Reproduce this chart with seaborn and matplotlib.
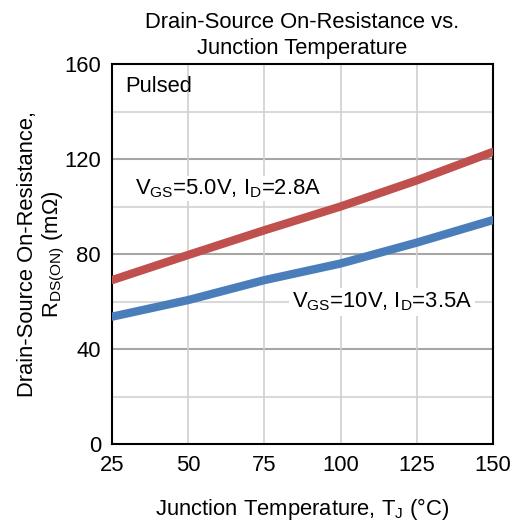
import pandas as pd
import seaborn as sns
from matplotlib import pyplot as plt

# 读图得到的数据
temp = [25, 50, 75, 100, 125, 150]
r_5v = [69.0, 79.6, 90.0, 100.0, 111.0, 123.0]
r_10v = [53.6, 60.6, 69.0, 76.0, 84.8, 94.3]
label_5v = r'V$_{\mathrm{GS}}$=5.0V, I$_{\mathrm{D}}$=2.8A'
label_10v = r'V$_{\mathrm{GS}}$=10V, I$_{\mathrm{D}}$=3.5A'

df = pd.concat([
    pd.DataFrame({"T": temp, "R": r_5v, "cond": "5V"}),
    pd.DataFrame({"T": temp, "R": r_10v, "cond": "10V"}),
], ignore_index=True)

sns.set_style("white", {"text.color": "black", "axes.labelcolor": "black",
                        "xtick.color": "black", "ytick.color": "black"})
plt.rcParams['font.family'] = ['Liberation Sans', 'DejaVu Sans']
plt.rcParams['mathtext.fontset'] = 'custom'
plt.rcParams['mathtext.rm'] = 'Liberation Sans'
plt.rcParams['mathtext.it'] = 'Liberation Sans'

fs = 15.8
fig = plt.figure(figsize=(5.14, 5.25), dpi=100)
ax = fig.add_axes([112/514, 1-444/525, 381/514, 380/525])

# 网格
for y in [20, 60, 100, 140]:
    ax.axhline(y, color='#d9d9d9', lw=1.5, zorder=0)
for y in [40, 80, 120]:
    ax.axhline(y, color='#a6a6a6', lw=1.5, zorder=0)
for x in [50, 75, 100, 125]:
    ax.axvline(x, color='#d0d0d0', lw=1.2, zorder=0)

sns.lineplot(data=df, x="T", y="R", hue="cond",
             palette={"5V": "#c0504d", "10V": "#4a7ebb"},
             lw=6, legend=False, ax=ax, zorder=3)

ax.set_xlim(25, 150)
ax.set_ylim(0, 160)
ax.set_xticks([25, 50, 75, 100, 125, 150])
ax.set_yticks([0, 40, 80, 120, 160])
ax.tick_params(length=0, labelsize=fs, colors='black')
ax.tick_params(axis='x', pad=8)
ax.tick_params(axis='y', pad=8)
for s in ax.spines.values():
    s.set_color('black')
    s.set_linewidth(1.5)

ax.set_xlabel(r'Junction Temperature, T$_{\mathrm{J}}$ (°C)', fontsize=fs, labelpad=14,
              color='black')
ax.set_ylabel('Drain-Source On-Resistance,\n' + r'R$_{\mathrm{DS(ON)}}$ (m$\Omega$)',
              fontsize=fs, labelpad=-2, linespacing=1.15, color='black')
ax.set_title('Drain-Source On-Resistance vs.\nJunction Temperature', fontsize=fs,
             pad=7, linespacing=1.35, color='black')

ax.text(29.5, 150.5, 'Pulsed', fontsize=fs, va='center', ha='left', color='black')
ax.text(32.5, 107.5, label_5v, fontsize=fs, va='center', ha='left', zorder=4,
        color='black', bbox=dict(facecolor='white', edgecolor='none', pad=1))
ax.text(84, 59.8, label_10v, fontsize=fs, va='center', ha='left', zorder=4,
        color='black', bbox=dict(facecolor='white', edgecolor='none', pad=2))

plt.savefig('out.png', dpi=100)
